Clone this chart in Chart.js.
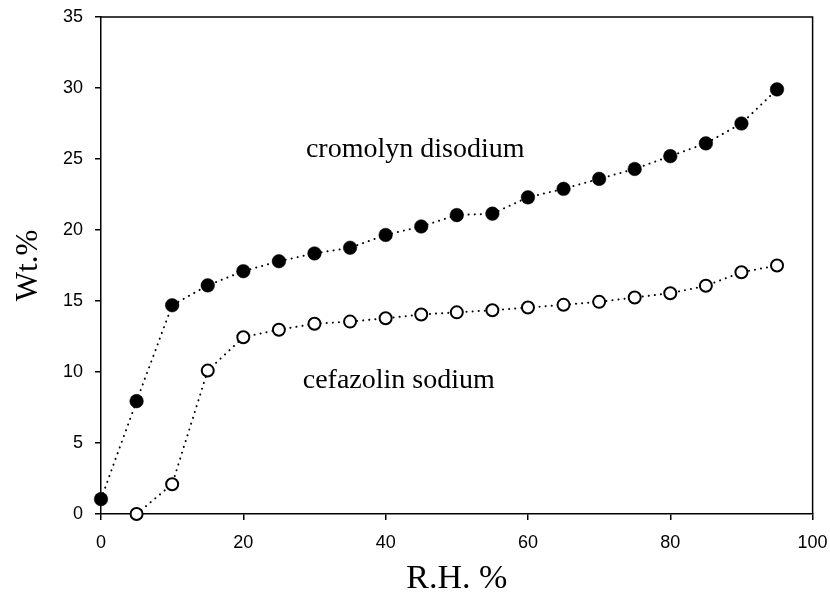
<!DOCTYPE html>
<html>
<head>
<meta charset="utf-8">
<script src="https://cdn.jsdelivr.net/npm/chart.js@4.4.0/dist/chart.umd.min.js"></script>
<style>
  html, body { margin: 0; padding: 0; background: #fff; }
  #wrap { width: 830px; height: 604px; position: relative; }
</style>
</head>
<body>
<div id="wrap"><canvas id="c" width="830" height="604"></canvas></div>
<script>
const rhValues = [0, 5, 10, 15, 20, 25, 30, 35, 40, 45, 50, 55, 60, 65, 70, 75, 80, 85, 90, 95];
const cromolyn = [1.05, 7.95, 14.7, 16.1, 17.1, 17.8, 18.35, 18.75, 19.65, 20.25, 21.05, 21.15, 22.3, 22.9, 23.6, 24.3, 25.2, 26.1, 27.5, 29.9];
const cefazolinRH = [5, 10, 15, 20, 25, 30, 35, 40, 45, 50, 55, 60, 65, 70, 75, 80, 85, 90, 95];
const cefazolin = [0.0, 2.1, 10.1, 12.45, 12.98, 13.4, 13.55, 13.78, 14.05, 14.2, 14.35, 14.54, 14.73, 14.94, 15.25, 15.55, 16.07, 17.02, 17.5];
const xTicks = [0, 20, 40, 60, 80, 100];
const yTicks = [0, 5, 10, 15, 20, 25, 30, 35];
const annotations = [
  { text: 'cromolyn disodium', x: 28.8, y: 25.16 },
  { text: 'cefazolin sodium', x: 28.35, y: 8.9 }
];

const toPts = (xs, ys) => xs.map((x, i) => ({ x: x, y: ys[i] }));

const framePlugin = {
  id: 'frame',
  afterDatasetsDraw(chart) {
    const { ctx, chartArea: a, scales } = chart;
    ctx.save();
    ctx.strokeStyle = '#000';
    ctx.lineWidth = 1.5;
    ctx.beginPath();
    ctx.moveTo(a.left, a.top);
    ctx.lineTo(a.right, a.top);
    ctx.lineTo(a.right, a.bottom);
    ctx.stroke();
    ctx.fillStyle = '#000';
    ctx.font = '28px "Liberation Serif", "Times New Roman", serif';
    ctx.textAlign = 'left';
    ctx.textBaseline = 'alphabetic';
    annotations.forEach(an => {
      ctx.fillText(an.text, scales.x.getPixelForValue(an.x), scales.y.getPixelForValue(an.y));
    });
    ctx.restore();
  }
};

const lineStyle = {
  showLine: true,
  borderColor: '#000',
  borderWidth: 2,
  borderDash: [0.1, 6],
  borderCapStyle: 'round',
  clip: false
};

new Chart(document.getElementById('c'), {
  type: 'scatter',
  data: {
    datasets: [
      Object.assign({
        label: 'cromolyn disodium',
        data: toPts(rhValues, cromolyn),
        pointRadius: 6.8,
        pointBackgroundColor: '#000',
        pointBorderColor: '#000',
        pointBorderWidth: 0.5
      }, lineStyle),
      Object.assign({
        label: 'cefazolin sodium',
        data: toPts(cefazolinRH, cefazolin),
        pointRadius: 6,
        pointBackgroundColor: '#fff',
        pointBorderColor: '#000',
        pointBorderWidth: 2
      }, lineStyle)
    ]
  },
  options: {
    responsive: false,
    animation: false,
    events: [],
    layout: { padding: { top: 17, right: 17.4, left: 0, bottom: 0 } },
    plugins: { legend: { display: false }, tooltip: { enabled: false } },
    scales: {
      x: {
        type: 'linear',
        min: 0, max: 100,
        afterFit(scale) { scale.height = 90; scale.paddingLeft = 0; scale.paddingRight = 0; },
        afterBuildTicks(scale) { scale.ticks = xTicks.map(v => ({ value: v })); },
        border: { display: true, color: '#000', width: 1.5 },
        grid: { drawOnChartArea: false, drawTicks: true, tickLength: 6, color: '#000', lineWidth: 1.5 },
        ticks: { color: '#000', padding: 12, font: { family: '"Liberation Sans", Arial, sans-serif', size: 18 } },
        title: {
          display: true, text: 'R.H. %', color: '#000',
          font: { family: '"Liberation Serif", "Times New Roman", serif', size: 34 },
          padding: { top: 0, bottom: 5 }
        }
      },
      y: {
        type: 'linear',
        min: 0, max: 35,
        afterFit(scale) { scale.width = 101; scale.paddingTop = 0; scale.paddingBottom = 0; },
        afterBuildTicks(scale) { scale.ticks = yTicks.map(v => ({ value: v })); },
        border: { display: true, color: '#000', width: 1.5 },
        grid: { drawOnChartArea: false, drawTicks: true, tickLength: 6, color: '#000', lineWidth: 1.5 },
        ticks: { color: '#000', padding: 12, font: { family: '"Liberation Sans", Arial, sans-serif', size: 18 } },
        title: {
          display: true, text: 'Wt.%', color: '#000',
          font: { family: '"Liberation Serif", "Times New Roman", serif', size: 31 },
          padding: { top: 10, bottom: 0 }
        }
      }
    }
  },
  plugins: [framePlugin]
});
</script>
</body>
</html>
